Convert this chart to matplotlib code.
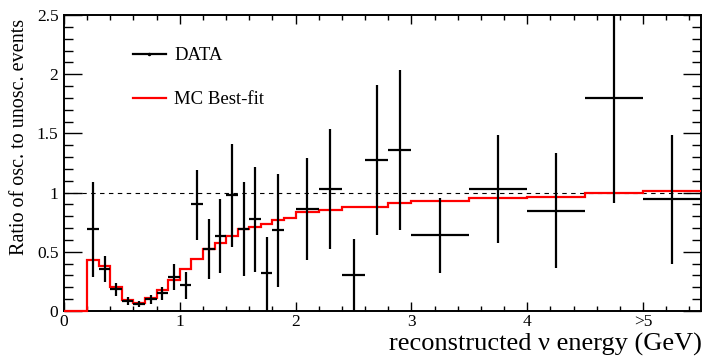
import matplotlib
matplotlib.use("Agg")
import matplotlib.pyplot as plt
from matplotlib.lines import Line2D
from matplotlib.ticker import MultipleLocator
import numpy as np

plt.rcParams['font.family'] = ['Liberation Serif', 'DejaVu Serif']

# Data points (bin centres, half widths, ratio, error bar ends)
x_centers = [0.25, 0.35, 0.45, 0.55, 0.65, 0.75, 0.85, 0.95, 1.05, 1.15,
             1.25, 1.35, 1.45, 1.55, 1.65, 1.75, 1.85,
             2.1, 2.3, 2.5, 2.7, 2.9,
             3.25, 3.75, 4.25, 4.75, 5.25]
x_half = [0.05] * 17 + [0.1] * 5 + [0.25] * 5
ratio = [0.695, 0.357, 0.19, 0.084, 0.056, 0.098, 0.149, 0.29, 0.22, 0.90,
         0.526, 0.636, 0.976, 0.69, 0.774, 0.318, 0.68,
         0.862, 1.03, 0.304, 1.274, 1.359,
         0.641, 1.03, 0.846, 1.803, 0.943]
err_top = [1.09, 0.464, 0.234, 0.12, 0.085, 0.135, 0.205, 0.397, 0.33, 1.19,
           0.78, 0.95, 1.41, 1.09, 1.218, 0.627, 1.16,
           1.29, 1.54, 0.605, 1.907, 2.034,
           0.956, 1.49, 1.336, 2.6, 1.485]
err_bot = [0.29, 0.247, 0.127, 0.05, 0.03, 0.059, 0.093, 0.177, 0.099, 0.60,
           0.27, 0.318, 0.54, 0.295, 0.33, 0.0, 0.203,
           0.43, 0.52, 0.0, 0.641, 0.684,
           0.323, 0.571, 0.36, 0.909, 0.40]

# MC best-fit histogram
mc_edges = [0.0, 0.1, 0.2, 0.3, 0.4, 0.5, 0.6, 0.7, 0.8, 0.9, 1.0, 1.1, 1.2,
            1.3, 1.4, 1.5, 1.6, 1.7, 1.8, 1.9, 2.0, 2.2, 2.4, 2.6, 2.8, 3.0,
            3.5, 4.0, 4.5, 5.0, 5.5]
mc_values = [0.0, 0.0, 0.43, 0.38, 0.205, 0.093, 0.065, 0.107, 0.177, 0.262,
             0.352, 0.435, 0.526, 0.578, 0.633, 0.692, 0.711, 0.735, 0.768,
             0.785, 0.833, 0.855, 0.875, 0.88, 0.914, 0.931, 0.951, 0.965,
             0.993, 1.013]

xtick_pos = [0, 1, 2, 3, 4, 5]
xtick_labels = ["0", "1", "2", "3", "4", ">5"]
ytick_pos = [0, 0.5, 1.0, 1.5, 2.0, 2.5]
ytick_labels = ["0", "0.5", "1", "1.5", "2", "2.5"]

fig = plt.figure(figsize=(7.02, 3.6), dpi=100)
ax = fig.add_axes([64 / 702, 1 - 311 / 360, 637 / 702, 296 / 360])

ax.axhline(1.0, color="black", lw=0.8, ls=(0, (4, 4)))

ax.stairs(mc_values, mc_edges, color="#ff0000", lw=1.6, baseline=None,
          zorder=3, clip_on=False)

y = np.array(ratio)
yerr = [y - np.array(err_bot), np.array(err_top) - y]
ax.errorbar(x_centers, ratio, xerr=x_half, yerr=yerr, fmt="none",
            ecolor="black", elinewidth=1.6, capsize=0, zorder=4)

ax.set_xlim(0, 5.5)
ax.set_ylim(0, 2.5)
ax.set_xticks(xtick_pos, xtick_labels)
ax.set_yticks(ytick_pos, ytick_labels)
ax.xaxis.set_minor_locator(MultipleLocator(0.2))
ax.yaxis.set_minor_locator(MultipleLocator(0.1))

ax.tick_params(axis="both", which="both", direction="in", top=True,
               right=True, labelsize=12.5, width=1.0)
ax.tick_params(axis="x", which="major", length=6.5, pad=2.5)
ax.tick_params(axis="x", which="minor", length=3.5)
ax.tick_params(axis="y", which="major", length=13, pad=4)
ax.tick_params(axis="y", which="minor", length=6.5)
for s in ax.spines.values():
    s.set_linewidth(1.4)

fig.text(1.0, 1 - 350.5 / 360, "reconstructed \u03bd energy (GeV)",
         ha="right", va="baseline", fontsize=19)
fig.text(20 / 702, 1 - 19 / 360, "Ratio of osc. to unosc. events",
         ha="center", va="top", rotation=90, fontsize=14.5)

handles = [
    Line2D([], [], color="black", lw=1.6, marker=".", markersize=3),
    Line2D([], [], color="#ff0000", lw=1.6),
]
ax.legend(handles, ["DATA", "MC Best-fit"], loc="upper left",
          bbox_to_anchor=((133 - 64) / 637, (311 - 47) / 296),
          frameon=False, fontsize=13.5, borderpad=0, borderaxespad=0,
          handlelength=1.75, handletextpad=0.45, labelspacing=1.45)

fig.savefig("out.png", dpi=100)
